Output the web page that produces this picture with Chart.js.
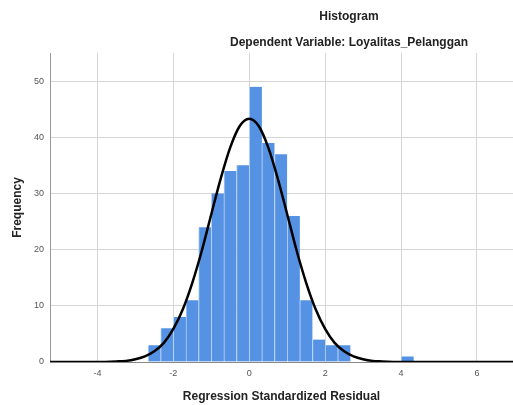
<!DOCTYPE html>
<html>
<head>
<meta charset="utf-8">
<script src="https://cdn.jsdelivr.net/npm/chart.js@4/dist/chart.umd.min.js"></script>
<style>
  body { margin: 0; background: #fff; }
  #wrap { width: 513px; height: 405px; position: relative; }
</style>
</head>
<body>
<div id="wrap"><canvas id="histChart"></canvas></div>
<script>
// Histogram bins (centres of the 1/3 wide bins) and counts
var binCentres = [-2.5, -2.167, -1.833, -1.5, -1.167, -0.833, -0.5, -0.167,
                  0.167, 0.5, 0.833, 1.167, 1.5, 1.833, 2.167, 2.5, 4.167];
var binCounts  = [3, 6, 8, 11, 24, 30, 34, 35,
                  49, 39, 37, 26, 11, 4, 3, 3, 1];

// Normal curve
var curveX = [-5.25, -4.5, -4, -3.5, -3.25, -3, -2.75, -2.5, -2.25, -2, -1.75, -1.5, -1.25, -1, -0.75, -0.5, -0.25,
              0, 0.25, 0.5, 0.75, 1, 1.25, 1.5, 1.75, 2, 2.25, 2.5, 2.75, 3, 3.25, 3.5, 4, 4.5, 5.5, 6.95];
var curveY = [0, 0, 0, 0.1, 0.2, 0.5, 1.0, 1.9, 3.4, 5.9, 9.4, 14.1, 19.8, 26.3, 32.7, 38.2, 42.0,
              43.3, 42.0, 38.2, 32.7, 26.3, 19.8, 14.1, 9.4, 5.9, 3.4, 1.9, 1.0, 0.5, 0.2, 0.1, 0, 0, 0, 0];

// Tick labels
var xTicks = [-4, -2, 0, 2, 4, 6];
var yTicks = [0, 10, 20, 30, 40, 50];

var titleText = "Histogram";
var subtitleText = "Dependent Variable: Loyalitas_Pelanggan";

var fontFamily = "'Liberation Sans', Arial, sans-serif";

// Draw the two title lines (centred over the right part like the original)
var titlePlugin = {
  id: 'spssTitle',
  afterDraw: function(chart) {
    var ctx = chart.ctx;
    ctx.save();
    ctx.fillStyle = '#222';
    ctx.font = "bold 12px " + fontFamily;
    ctx.textAlign = 'center';
    ctx.textBaseline = 'middle';
    ctx.fillText(titleText, 349, 17);
    ctx.fillText(subtitleText, 349, 43);
    ctx.restore();
  }
};

var barData = binCentres.map(function(x, i) { return {x: x, y: binCounts[i]}; });
var lineData = curveX.map(function(x, i) { return {x: x, y: curveY[i]}; });

var ctx = document.getElementById('histChart').getContext('2d');
var histChart = new Chart(ctx, {
  type: 'bar',
  data: {
    datasets: [{
      type: 'line',
      data: lineData,
      borderColor: '#000',
      borderWidth: 2.5,
      pointRadius: 0,
      cubicInterpolationMode: 'monotone',
      fill: false,
      order: 0
    }, {
      type: 'bar',
      data: barData,
      backgroundColor: '#5592e3',
      borderColor: '#b9d3f4',
      borderWidth: {left: 1, right: 0, top: 0, bottom: 0},
      borderSkipped: false,
      barPercentage: 1,
      categoryPercentage: 1,
      order: 1
    }]
  },
  options: {
    responsive: true,
    maintainAspectRatio: false,
    animation: false,
    layout: { padding: {top: 53, right: 0, left: 0, bottom: 0} },
    plugins: {
      legend: { display: false },
      tooltip: { enabled: false }
    },
    scales: {
      x: {
        type: 'linear',
        min: -5.25,
        max: 6.95,
        offset: false,
        afterBuildTicks: function(scale) {
          scale.ticks = xTicks.map(function(v) { return {value: v}; });
        },
        afterFit: function(scale) { scale.height = 43; },
        grid: { color: '#d6d6d6', drawTicks: false, offset: false },
        border: { display: true, color: '#888' },
        ticks: { color: '#555', font: { family: fontFamily, size: 9 }, padding: 6, maxRotation: 0 },
        title: {
          display: true,
          text: 'Regression Standardized Residual',
          color: '#222',
          font: { family: fontFamily, size: 12, weight: 'bold' },
          padding: {top: 0, bottom: 1}
        }
      },
      y: {
        min: 0,
        max: 55,
        afterBuildTicks: function(scale) {
          scale.ticks = yTicks.map(function(v) { return {value: v}; });
        },
        afterFit: function(scale) { scale.width = 50; },
        grid: { color: '#d6d6d6', drawTicks: false },
        border: { display: true, color: '#999' },
        ticks: { color: '#555', font: { family: fontFamily, size: 9 }, padding: 6 },
        title: {
          display: true,
          text: 'Frequency',
          color: '#222',
          font: { family: fontFamily, size: 12, weight: 'bold' },
          padding: {top: 10, bottom: 0}
        }
      }
    }
  },
  plugins: [titlePlugin]
});
</script>
</body>
</html>
